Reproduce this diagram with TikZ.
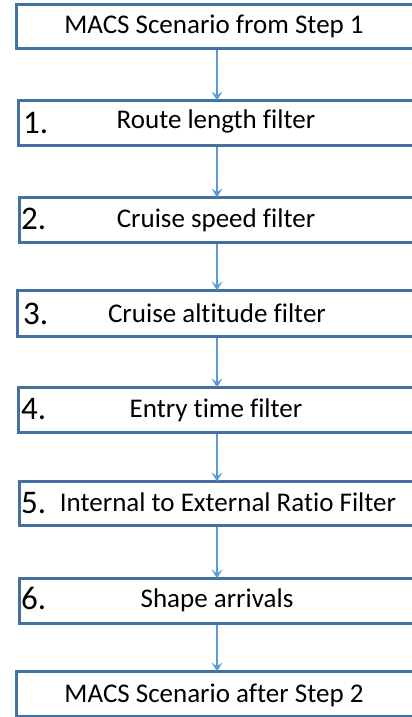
\documentclass[tikz,border=0pt]{standalone}
\usepackage{fontspec}
\setmainfont[Ligatures=NoCommon]{Carlito}
\usetikzlibrary{arrows.meta}
\definecolor{boxblue}{HTML}{41719C}
\definecolor{arrblue}{HTML}{5B9BD5}
\tikzset{
  stepbox/.style={draw=boxblue, line width=2.8pt, fill=white, inner sep=0pt, anchor=north west, minimum width=405pt},
  lbl/.style={font=\fontsize{27}{27}\selectfont, text=black, inner sep=0pt, anchor=base},
  num/.style={font=\fontsize{33}{33}\selectfont, text=black, inner sep=0pt, anchor=base west},
  arr/.style={draw=arrblue, line width=1.8pt, -{Stealth[length=9pt,width=11pt,inset=4pt]}}
}
\begin{document}
\begin{tikzpicture}[x=1pt,y=-1pt]
\useasboundingbox (0,0) rectangle (412,717);
\clip (0,0) rectangle (412,717);
\coordinate (ax) at (217,0);
\node[stepbox, minimum height=44pt] (b0) at (15,3) {};
\node[stepbox, minimum height=45pt, minimum width=403pt] (b1) at (17,99) {};
\node[stepbox, minimum height=45pt, minimum width=402pt] (b2) at (18,196) {};
\node[stepbox, minimum height=46pt, minimum width=404pt] (b3) at (16,289) {};
\node[stepbox, minimum height=45pt, minimum width=403pt] (b4) at (17,386) {};
\node[stepbox, minimum height=44pt, minimum width=402pt] (b5) at (18,480) {};
\node[stepbox, minimum height=45pt, minimum width=402pt] (b6) at (18,577) {};
\node[stepbox, minimum height=45pt] (b7) at (15,670) {};

\node[lbl] (t0) at (214,34) {MACS Scenario from Step 1};
\node[lbl] (t1) at (216,128) {Route length filter};
\node[lbl] (t2) at (216,227) {Cruise speed filter};
\node[lbl] (t3) at (217,322) {Cruise altitude filter};
\node[lbl] (t4) at (216,417) {Entry time filter};
\node[lbl] (t5) at (228,511) {Internal to External Ratio Filter};
\node[lbl] (t6) at (217,607) {Shape arrivals};
\node[lbl] (t7) at (214,702) {MACS Scenario after Step 2};

\node[num] (n1) at (23,133) {1.};
\node[num] (n2) at (21,229) {2.};
\node[num] (n3) at (23,324) {3.};
\node[num] (n4) at (21,419) {4.};
\node[num] (n5) at (21,513) {5.};
\node[num] (n6) at (21,609) {6.};

\foreach \a/\b in {b0/b1,b1/b2,b2/b3,b3/b4,b4/b5,b5/b6,b6/b7}
  \draw[arr] (\a.south -| ax) -- ([yshift=-1.4pt]\b.north -| ax);
\end{tikzpicture}
\end{document}
